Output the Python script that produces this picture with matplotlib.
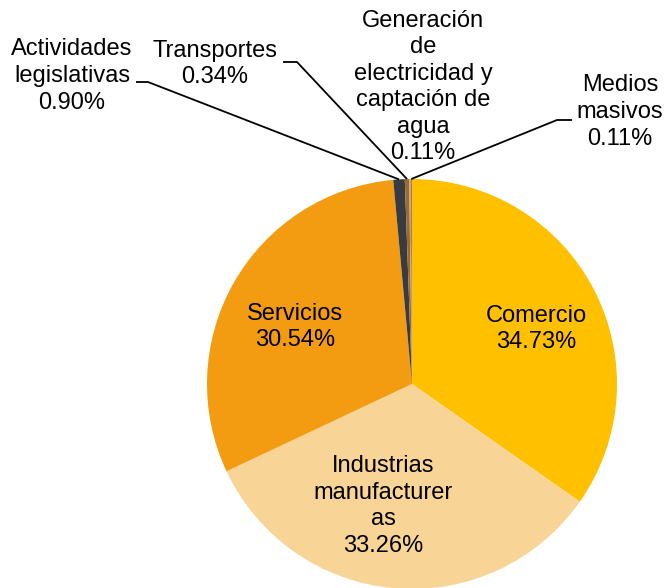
import numpy as np
import matplotlib.pyplot as plt

plt.rcParams['font.family'] = ['Liberation Sans', 'DejaVu Sans']

# sectores, en el orden de las agujas del reloj desde las 12
sectores = ['Comercio', 'Industrias\nmanufacturer\nas', 'Servicios',
            'Actividades\nlegislativas', 'Transportes',
            'Generación\nde\nelectricidad y\ncaptación de\nagua',
            'Medios\nmasivos']
porcentajes = [34.73, 33.26, 30.54, 0.90, 0.34, 0.11, 0.11]
colores = ['#FFC000', '#F8D596', '#F39C12', '#383C40', '#9E6A2E', '#A5A5A5', '#C8742A']

W, H = 665, 588
def py(y):
    return H - y

fig = plt.figure(figsize=(6.65, 5.88), dpi=100)
ax = fig.add_axes([0, 0, 1, 1])

cx, cy, r = 412, py(384), 205
wedges, _ = ax.pie(porcentajes, colors=colores, startangle=90, counterclock=False,
                   center=(cx, cy), radius=r, wedgeprops=dict(linewidth=0))

# posiciones de las etiquetas (pixeles de la imagen)
pos = [(536, 329), (383, 506), (295, 327), (72, 76), (215, 64), (423, 87), (620, 112)]
for i, (nombre, val) in enumerate(zip(sectores, porcentajes)):
    x, y = pos[i]
    ax.text(x, py(y), '%s\n%.2f%%' % (nombre, val), ha='center', va='center',
            fontsize=17, linespacing=1.27, color='black')

# lineas guia: codo en la etiqueta -> borde del sector
guias = {3: [(136, 82), (148, 82)], 4: [(283, 62), (297, 62)], 6: [(572, 120), (557, 120)]}
for i, pts in guias.items():
    w = wedges[i]
    ang = np.deg2rad((w.theta1 + w.theta2) / 2)
    ax_x = cx + r * np.cos(ang)
    ax_y = cy + r * np.sin(ang)
    xs = [p[0] for p in pts] + [ax_x]
    ys = [py(p[1]) for p in pts] + [ax_y]
    ax.plot(xs, ys, color='black', lw=1.3, solid_capstyle='butt')

ax.set_xlim(0, W)
ax.set_ylim(0, H)
ax.set_aspect('equal')
ax.axis('off')
fig.savefig('out.png', dpi=100)
